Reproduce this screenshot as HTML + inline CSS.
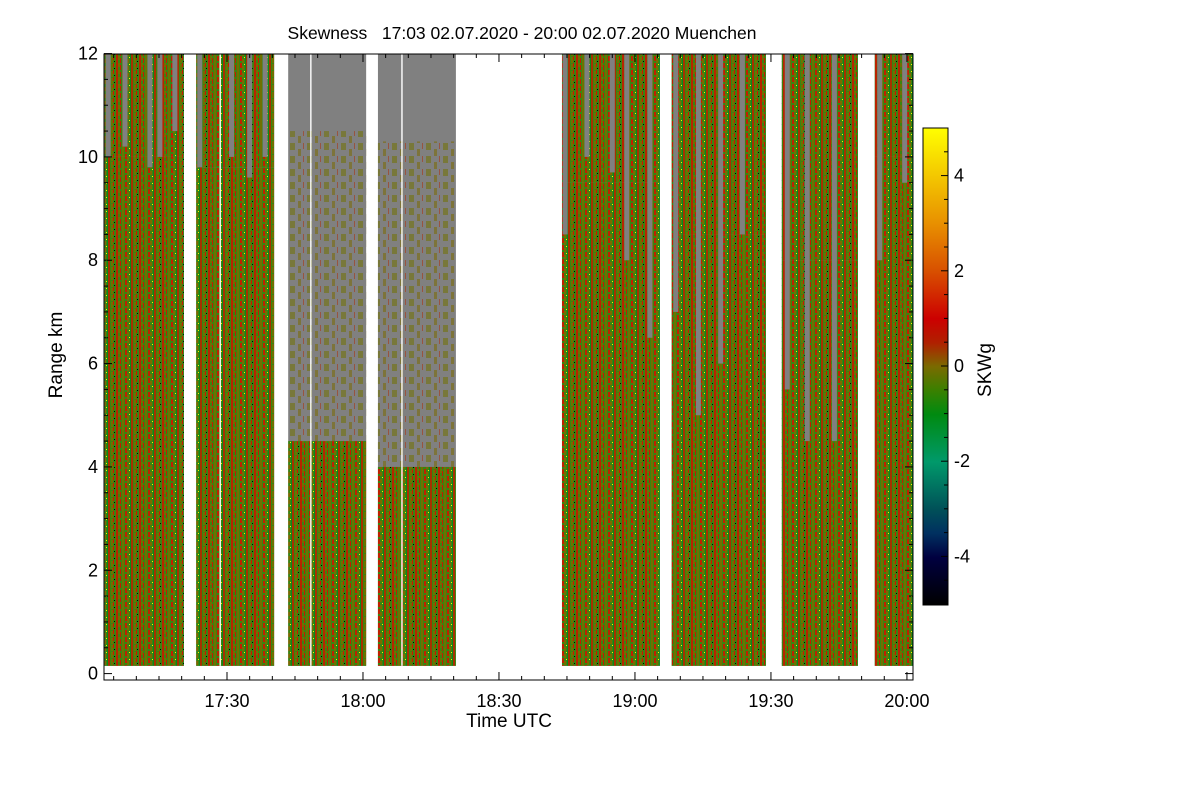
<!DOCTYPE html>
<html><head><meta charset="utf-8"><style>
body{margin:0;background:#fff;}
svg text{font-family:"Liberation Sans",sans-serif;fill:#000;white-space:pre;}
</style></head><body>
<svg id="chart" width="1200" height="800" xmlns="http://www.w3.org/2000/svg">
<defs>
<pattern id="tex" width="23" height="7" patternUnits="userSpaceOnUse">
<rect width="23" height="7" fill="#3a8410"/>
<rect x="1" width="2" height="7" fill="#b82400"/>
<rect x="3" width="2" height="4" fill="#6e7000"/>
<rect x="5" y="2" width="1" height="5" fill="#c41a00"/>
<rect x="7" width="2" height="7" fill="#707000"/>
<rect x="10" width="2" height="5" fill="#c02000"/>
<rect x="12" y="3" width="2" height="4" fill="#7a6a00"/>
<rect x="15" width="1" height="7" fill="#0a8a1a"/>
<rect x="16" width="2" height="7" fill="#a83000"/>
<rect x="19" y="1" width="2" height="6" fill="#707000"/>
<rect x="21" width="1" height="4" fill="#c81800"/>
<rect x="14" y="1" width="1" height="1" fill="#ffee00"/>
<rect x="22" y="5" width="1" height="1" fill="#000"/>
</pattern>
<pattern id="tex2" width="17" height="13" patternUnits="userSpaceOnUse">
<rect x="1" width="5" height="7" fill="#707000" opacity="0.55"/>
<rect x="9" y="6" width="3" height="7" fill="#7a6a00" opacity="0.55"/>
<rect x="14" width="1" height="6" fill="#b02800" opacity="0.5"/>
</pattern>
<linearGradient id="cbar" x1="0" y1="1" x2="0" y2="0">
<stop offset="0" stop-color="#000000"/>
<stop offset="0.1" stop-color="#000040"/>
<stop offset="0.15" stop-color="#003060"/>
<stop offset="0.2" stop-color="#005058"/>
<stop offset="0.3" stop-color="#00996a"/>
<stop offset="0.4" stop-color="#008a10"/>
<stop offset="0.45" stop-color="#3a8000"/>
<stop offset="0.5" stop-color="#7a6a00"/>
<stop offset="0.55" stop-color="#b02000"/>
<stop offset="0.6" stop-color="#cc0000"/>
<stop offset="0.7" stop-color="#d85000"/>
<stop offset="0.8" stop-color="#e89000"/>
<stop offset="1" stop-color="#ffff00"/>
</linearGradient>
</defs>
<g id="plot"></g>
<g id="axes"></g>
</svg>
<script>
// data: minutes after 17:00, heights km
const segStart = [3.0, 23.2, 43.5, 63.3, 103.9, 128.1, 152.4, 172.9];
const segEnd   = [20.5, 40.4, 60.7, 80.5, 125.5, 148.9, 169.2, 181.3];
const segSolidTop = [10.0, 9.8, 4.5, 4.0, 9.5, 8.5, 8.0, 10.0];
const segMixedTop = [12, 12, 10.5, 10.3, 12, 12, 12, 12];
const stripeTime = [3.8,7.5,13,15.2,18.5, 24,31,35,38.4, 104.6,109.4,115,118.2,123.3, 129,134,138.9,143.7, 153.6,158,164, 174,179.5];
const stripeBottom = [10,10.2,9.8,10,10.5, 9.8,10,9.6,10, 8.5,10,9.7,8,6.5, 7,5,6,8.5, 5.5,4.5,4.5, 8,9.5];
const whiteLineTime = [28.5, 48.5, 68.6];
const xTickLabels = ["17:30","18:00","18:30","19:00","19:30","20:00"];
const xTickMinutes = [30,60,90,120,150,180];
const yTickLabels = ["0","2","4","6","8","10","12"];
const yTickValues = [0,2,4,6,8,10,12];
const cbTickValues = [4,2,0,-2,-4];

const NS="http://www.w3.org/2000/svg";
const X0=104.6, XMIN=3, PXM=4.533, YB=673.6, PXK=51.67;
const xs=m=>X0+(m-XMIN)*PXM;
const ys=k=>YB-k*PXK;
const cbY=v=>366-v*47.6;
function mk(tag,attrs,parent){const e=document.createElementNS(NS,tag);for(const k in attrs)e.setAttribute(k,attrs[k]);parent.appendChild(e);return e;}
const plot=document.getElementById('plot'), axes=document.getElementById('axes');
const yBot=ys(0.15), yTop=ys(12);
segStart.forEach((s,i)=>{
  const x1=xs(s), x2=xs(segEnd[i]);
  let r=mk('rect',{x:x1,y:yTop,width:x2-x1,height:yBot-yTop,fill:'#808080'},plot);
  
  
  r=mk('rect',{x:x1,y:ys(segMixedTop[i]),width:x2-x1,height:ys(segSolidTop[i])-ys(segMixedTop[i]),fill:segMixedTop[i]<12?'url(#tex2)':'url(#tex)'},plot);
  
  
  r=mk('rect',{x:x1,y:ys(segSolidTop[i]),width:x2-x1,height:yBot-ys(segSolidTop[i]),fill:'url(#tex)'},plot);
  
  
});
stripeTime.forEach((t,i)=>{
  const r=mk('rect',{x:xs(t)-2.5,y:yTop,width:5,height:ys(stripeBottom[i])-yTop,fill:'#808080'},plot);
  
  
});
whiteLineTime.forEach(t=>{
  const r=mk('rect',{x:xs(t)-0.7,y:yTop,width:1.4,height:yBot-yTop,fill:'#fff'},plot);
  
  
});
const L=104, R=913, T=54, B=680;
let f=mk('rect',{x:L,y:T,width:R-L,height:B-T,fill:'none',stroke:'#000','stroke-width':1},axes);


for(let m=5;m<=181;m+=5){
  const x=xs(m), len=(m%30===0)?8:4;
  mk('line',{x1:x,y1:B,x2:x,y2:B-len,stroke:'#000'},axes);
  mk('line',{x1:x,y1:T,x2:x,y2:T+len,stroke:'#000'},axes);
}
xTickLabels.forEach((lab,i)=>{
  const t=mk('text',{x:xs(xTickMinutes[i]),y:707,'text-anchor':'middle','font-size':18},axes);
  t.textContent=lab;
  
  
});
for(let k=0;k<=12;k+=0.5){
  const y=ys(k), len=(k%2===0)?8:4;
  mk('line',{x1:L,y1:y,x2:L+len,y2:y,stroke:'#000'},axes);
  mk('line',{x1:R,y1:y,x2:R-len,y2:y,stroke:'#000'},axes);
}
yTickLabels.forEach((lab,i)=>{
  const t=mk('text',{x:98,y:ys(yTickValues[i])+6,'text-anchor':'end','font-size':18},axes);
  t.textContent=lab;
  
  
});
let t=mk('text',{x:522,y:39,'text-anchor':'middle','font-size':17.5},axes);
t.textContent='Skewness   17:03 02.07.2020 - 20:00 02.07.2020 Muenchen';


t=mk('text',{x:509,y:727,'text-anchor':'middle','font-size':19},axes);
t.textContent='Time UTC';


t=mk('text',{x:62,y:355,'text-anchor':'middle','font-size':19,transform:'rotate(-90 62 355)'},axes);
t.textContent='Range km';


let cb=mk('rect',{x:923,y:128,width:25,height:477,fill:'url(#cbar)',stroke:'#000','stroke-width':1},axes);


for(let v=-5;v<=5;v+=0.5){mk('line',{x1:948,y1:cbY(v),x2:(v%2===0)?941:944,y2:cbY(v),stroke:'#000'},axes);}
cbTickValues.forEach(v=>{
  const tt=mk('text',{x:954,y:cbY(v)+6,'font-size':18},axes);
  tt.textContent=String(v);
  
  
});
t=mk('text',{x:991,y:370,'text-anchor':'middle','font-size':19,transform:'rotate(-90 991 370)'},axes);
t.textContent='SKWg';


</script>
</body></html>
